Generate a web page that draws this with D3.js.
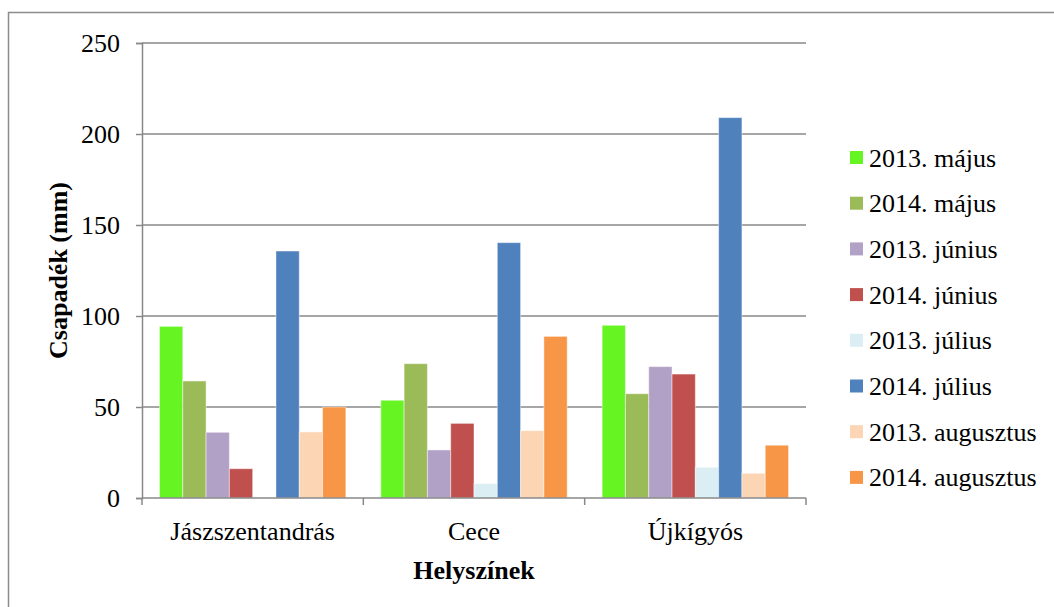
<!DOCTYPE html>
<html>
<head>
<meta charset="utf-8">
<script src="https://cdn.jsdelivr.net/npm/d3@7"></script>
<style>
    body { margin: 0; background: #fff; }
    svg { display: block; }
    svg text { font-family: "Liberation Serif", "Times New Roman", serif; }
</style>
</head>
<body>
<svg id="chart" width="1054" height="607"></svg>
<script>
// places on the x axis
var places = ["Jászszentandrás", "Cece", "Újkígyós"];

// one series per month/year, values follow the order of places
var series = ["2013. május", "2014. május", "2013. június", "2014. június",
              "2013. július", "2014. július", "2013. augusztus", "2014. augusztus"];
var may2013 = [94.3, 53.7, 94.9],
    may2014 = [64.3, 73.8, 57.3],
    jun2013 = [36.1, 26.4, 72.2],
    jun2014 = [16.1, 41.0, 68.1],
    jul2013 = [null, 7.9, 16.9],
    jul2014 = [135.7, 140.3, 209.0],
    aug2013 = [36.3, 37.0, 13.6],
    aug2014 = [50.0, 88.8, 29.0];
var seriesValues = [may2013, may2014, jun2013, jun2014, jul2013, jul2014, aug2013, aug2014];
var colors = ["#66f522", "#9bbb59", "#b2a1c7", "#c0504d", "#dbeef4", "#4f81bd", "#fcd5b5", "#f79646"];
var yTicks = [0, 50, 100, 150, 200, 250];

function draw_chart() {
    var svg = d3.select("#chart"),
        margins = {"left": 142, "right": 248, "top": 43, "bottom": 109},
        width = 1054, height = 607,
        grid = "#888888",
        serif = "Liberation Serif";

    // outer frame, runs off the right and bottom edges
    svg.append("rect").attr("x", 8.5).attr("y", 12.5)
        .attr("width", 1060).attr("height", 620)
        .attr("fill", "none").attr("stroke", "#8c8c8c").attr("stroke-width", 1.5);

    var x = d3.scaleBand().domain(places).range([margins.left, width - margins.right]).padding(0),
        xs = d3.scaleBand().domain(series).range([0, x.bandwidth()]).paddingInner(0).paddingOuter(0.75),
        y = d3.scaleLinear().domain([0, 250]).range([height - margins.bottom, margins.top]);

    // gridlines
    svg.append("g").selectAll("line").data(yTicks.filter(d => d > 0)).enter().append("line")
        .attr("x1", margins.left).attr("x2", width - margins.right)
        .attr("y1", d => y(d)).attr("y2", d => y(d))
        .attr("stroke", grid).attr("stroke-width", 1.5);

    // bars
    var rows = [];
    series.forEach((s, si) => {
        places.forEach((p, pi) => {
            if (seriesValues[si][pi] != null) rows.push({"s": s, "p": p, "v": seriesValues[si][pi], "c": colors[si]});
        });
    });
    svg.append("g").selectAll("rect").data(rows).enter().append("rect")
        .attr("x", d => x(d.p) + xs(d.s))
        .attr("y", d => y(d.v))
        .attr("width", xs.bandwidth())
        .attr("height", d => y(0) - y(d.v))
        .attr("fill", d => d.c)
        .attr("stroke", "#ffffff").attr("stroke-opacity", 0.45).attr("stroke-width", 1);

    // y axis
    var yAxis = svg.append("g").attr("transform", "translate(" + [margins.left, 0] + ")")
        .call(d3.axisLeft(y).tickValues(yTicks).tickSize(6).tickPadding(16))
        .attr("font-family", serif);
    yAxis.select(".domain").attr("stroke", grid).attr("stroke-width", 1.5);
    yAxis.selectAll(".tick line").attr("stroke", grid).attr("stroke-width", 1.5);
    yAxis.selectAll(".tick text").attr("font-size", "26px").attr("fill", "#000")
        .style("font-family", serif);

    // x axis, ticks sit on category borders
    var xAxis = svg.append("g").attr("transform", "translate(" + [0, y(0)] + ")");
    xAxis.append("line").attr("x1", margins.left).attr("x2", width - margins.right)
        .attr("stroke", grid).attr("stroke-width", 1.5);
    var borders = places.map(p => x(p)).concat([x(places[places.length - 1]) + x.bandwidth()]);
    xAxis.selectAll(".xt").data(borders).enter().append("line").classed("xt", true)
        .attr("x1", d => d).attr("x2", d => d).attr("y1", 0).attr("y2", 7)
        .attr("stroke", grid).attr("stroke-width", 1.5);
    xAxis.selectAll(".xl").data(places).enter().append("text").classed("xl", true)
        .attr("x", d => x(d) + x.bandwidth() / 2).attr("y", 42)
        .attr("text-anchor", "middle").attr("font-size", "26px").text(d => d);

    // axis titles
    svg.append("text").attr("x", (margins.left + width - margins.right) / 2).attr("y", 579)
        .attr("text-anchor", "middle").attr("font-size", "26px").attr("font-weight", "bold")
        .text("Helyszínek");
    svg.append("text").attr("transform", "translate(67," + ((y(0) + y(250)) / 2) + ") rotate(-90)")
        .attr("text-anchor", "middle").attr("font-size", "26px").attr("font-weight", "bold")
        .text("Csapadék (mm)");

    // legend
    var legend = svg.append("g").attr("transform", "translate(850,151)");
    var item = legend.selectAll("g").data(series).enter().append("g")
        .attr("transform", (d, i) => "translate(0," + (i * 45.7) + ")");
    item.append("rect").attr("width", 13).attr("height", 13).attr("fill", (d, i) => colors[i]);
    item.append("text").attr("x", 19).attr("y", 15.5).attr("font-size", "26px").text(d => d);
}

draw_chart();
</script>
</body>
</html>
